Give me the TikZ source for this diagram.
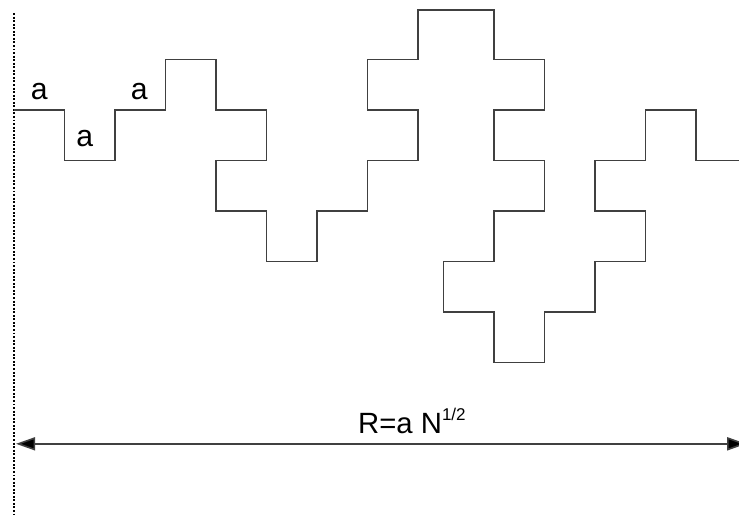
\documentclass[tikz,border=0pt]{standalone}
\usepackage{fontspec}
\setmainfont{Liberation Sans}
\usepackage{tikz}
\usetikzlibrary{arrows.meta}

\begin{document}
\begin{tikzpicture}[x=1cm,y=1cm,
    walk/.style={line width=0.85pt,draw=black!75,line join=miter},
    steplabel/.style={font=\fontsize{17}{20}\selectfont,inner sep=0pt,anchor=base},
    endline/.style={line width=0.6pt,dash pattern=on 1.1pt off 0.9pt},
    dist/.style={line width=0.9pt,draw=black!75,
      {Triangle[length=3.8mm,width=2.6mm,fill=black]}-{Triangle[length=3.8mm,width=2.6mm,fill=black]}}]

  \useasboundingbox (-0.277,-8.139) rectangle (14.356,2.178);

  % start line
  \draw[endline] (0,1.92) -- (0,-8.02);

  % the walk
  \draw[walk] (0,0) -- (1,0) -- (1,-1) -- (2,-1) -- (2,0) -- (3,0) -- (3,1)
    -- (4,1) -- (4,0) -- (5,0) -- (5,-1) -- (4,-1) -- (4,-2) -- (5,-2)
    -- (5,-3) -- (6,-3) -- (6,-2) -- (7,-2) -- (7,-1) -- (8,-1) -- (8,0)
    -- (7,0) -- (7,1) -- (8,1) -- (8,1.98) -- (9.5,1.98) -- (9.5,1)
    -- (10.5,1) -- (10.5,0) -- (9.5,0) -- (9.5,-1) -- (10.5,-1) -- (10.5,-2)
    -- (9.5,-2) -- (9.5,-3) -- (8.5,-3) -- (8.5,-4) -- (9.5,-4) -- (9.5,-5)
    -- (10.5,-5) -- (10.5,-4) -- (11.5,-4) -- (11.5,-3) -- (12.5,-3)
    -- (12.5,-2) -- (11.5,-2) -- (11.5,-1) -- (12.5,-1) -- (12.5,0)
    -- (13.5,0) -- (13.5,-1) -- (14.5,-1);

  \node[steplabel] (a1) at (0.5,0.2) {a};
  \node[steplabel] (a2) at (1.4,-0.73) {a};
  \node[steplabel] (a3) at (2.48,0.2) {a};

  % end to end distance
  \coordinate (rstart) at (0.04,-6.61);
  \coordinate (rend) at (14.5,-6.61);
  \draw[dist] (rstart) -- (rend);
  \node[anchor=base,inner sep=0pt,font=\fontsize{16.5}{20}\selectfont] (rlabel) at (7.88,-6.40)
    {R=a N\raisebox{7.3pt}{\fontsize{9.6}{11}\selectfont 1/2}};

\end{tikzpicture}
\end{document}
